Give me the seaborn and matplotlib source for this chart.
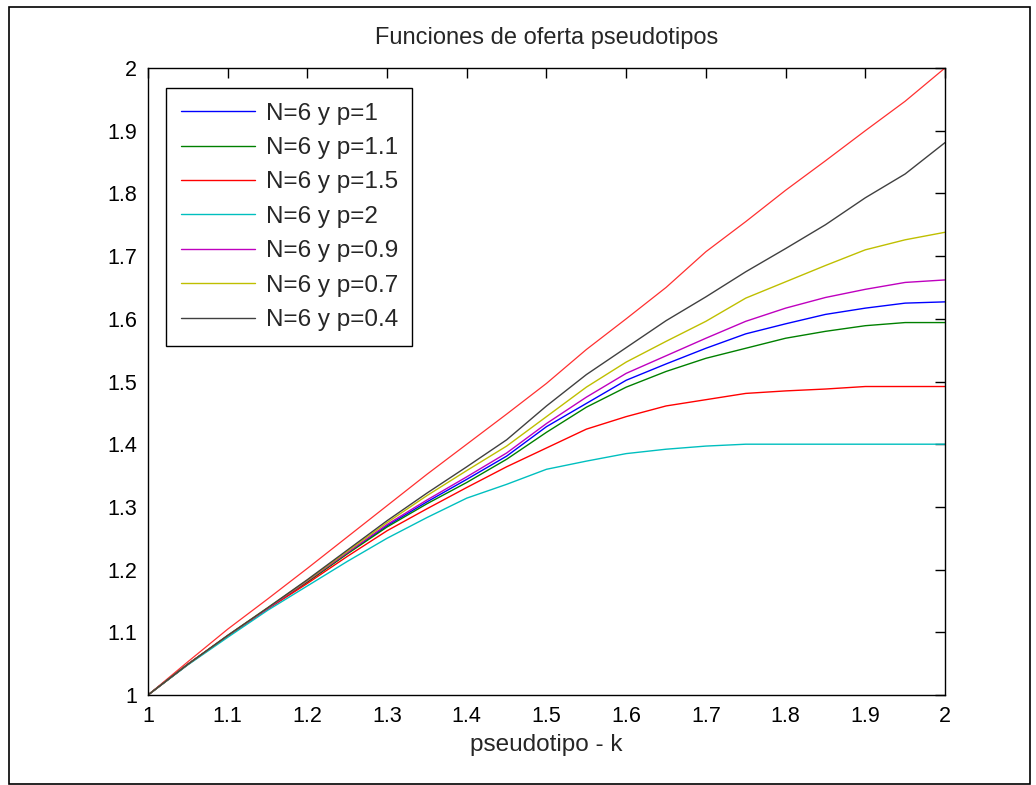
import numpy as np
import pandas as pd
import matplotlib
matplotlib.use("Agg")
import matplotlib.pyplot as plt
import seaborn as sns
from matplotlib.patches import Rectangle

# ---------------- data ----------------
k = [1.00, 1.05, 1.10, 1.15, 1.20, 1.25, 1.30, 1.35, 1.40, 1.45, 1.50,
     1.55, 1.60, 1.65, 1.70, 1.75, 1.80, 1.85, 1.90, 1.95, 2.00]

ref_line = [1.000, 1.053, 1.105, 1.153, 1.202, 1.252, 1.302, 1.352, 1.400, 1.448, 1.497,
            1.551, 1.600, 1.650, 1.707, 1.755, 1.805, 1.852, 1.900, 1.947, 2.000]
p_1 = [1.000, 1.049, 1.094, 1.138, 1.181, 1.226, 1.270, 1.308, 1.344, 1.381, 1.428,
       1.465, 1.502, 1.528, 1.553, 1.576, 1.592, 1.607, 1.617, 1.625, 1.627]
p_1_1 = [1.000, 1.049, 1.094, 1.138, 1.180, 1.225, 1.268, 1.305, 1.339, 1.376, 1.419,
         1.459, 1.491, 1.516, 1.537, 1.553, 1.569, 1.580, 1.589, 1.594, 1.594]
p_1_5 = [1.000, 1.049, 1.094, 1.137, 1.178, 1.221, 1.262, 1.297, 1.331, 1.364, 1.394,
         1.424, 1.444, 1.461, 1.471, 1.481, 1.485, 1.488, 1.492, 1.492, 1.492]
p_2 = [1.000, 1.048, 1.092, 1.135, 1.174, 1.213, 1.250, 1.283, 1.314, 1.336, 1.360,
       1.373, 1.385, 1.392, 1.397, 1.400, 1.400, 1.400, 1.400, 1.400, 1.400]
p_0_9 = [1.000, 1.049, 1.095, 1.138, 1.182, 1.227, 1.272, 1.311, 1.348, 1.386, 1.433,
         1.475, 1.513, 1.541, 1.569, 1.596, 1.617, 1.634, 1.647, 1.658, 1.662]
p_0_7 = [1.000, 1.049, 1.095, 1.139, 1.183, 1.229, 1.275, 1.318, 1.358, 1.397, 1.444,
         1.491, 1.531, 1.564, 1.596, 1.633, 1.659, 1.685, 1.710, 1.726, 1.738]
p_0_4 = [1.000, 1.049, 1.095, 1.139, 1.184, 1.231, 1.278, 1.322, 1.364, 1.407, 1.461,
         1.511, 1.554, 1.597, 1.635, 1.675, 1.712, 1.750, 1.793, 1.831, 1.881]

labels = ["N=6 y p=1", "N=6 y p=1.1", "N=6 y p=1.5", "N=6 y p=2",
          "N=6 y p=0.9", "N=6 y p=0.7", "N=6 y p=0.4"]
series = [p_1, p_1_1, p_1_5, p_2, p_0_9, p_0_7, p_0_4]
colors = ["#0000ff", "#008000", "#ff0000", "#00bfbf", "#bf00bf", "#bfbf00", "#404040"]

x_ticks = [1, 1.1, 1.2, 1.3, 1.4, 1.5, 1.6, 1.7, 1.8, 1.9, 2]
y_ticks = [1, 1.1, 1.2, 1.3, 1.4, 1.5, 1.6, 1.7, 1.8, 1.9, 2]
tick_labels = ["1", "1.1", "1.2", "1.3", "1.4", "1.5", "1.6", "1.7", "1.8", "1.9", "2"]

# ---------------- style ----------------
sns.set_style("white")
plt.rcParams["font.family"] = ["Liberation Sans", "DejaVu Sans"]
plt.rcParams["xtick.direction"] = "in"
plt.rcParams["ytick.direction"] = "in"

long = pd.DataFrame({
    "k": np.tile(k, len(series)),
    "v": np.concatenate(series),
    "serie": np.repeat(labels, len(k)),
})

fig = plt.figure(figsize=(10.36, 7.85), dpi=100)
fig.patch.set_facecolor("white")
ax = fig.add_axes([148 / 1036, 1 - 695 / 785, (945 - 148) / 1036, (695 - 68) / 785])

# unlabeled reference line (red, drawn first)
sns.lineplot(x=k, y=ref_line, ax=ax, color="#ff3030", linewidth=0.9, legend=False)
sns.lineplot(data=long, x="k", y="v", hue="serie", hue_order=labels,
             palette=dict(zip(labels, colors)), ax=ax, linewidth=1.0, sort=False)

ax.set_xlim(1, 2)
ax.set_ylim(1, 2)
ax.set_xticks(x_ticks)
ax.set_yticks(y_ticks)
ax.set_xticklabels(tick_labels)
ax.set_yticklabels(tick_labels)
ax.tick_params(axis="both", which="both", top=True, right=True, length=7, width=1,
               labelsize=15.5, colors="black", pad=8)
for s in ax.spines.values():
    s.set_visible(True)
    s.set_color("black")
    s.set_linewidth(1.0)

ax.set_title("Funciones de oferta pseudotipos", fontsize=17, pad=17)
ax.set_xlabel("pseudotipo - k", fontsize=17.5, labelpad=5)
ax.set_ylabel("")

handles, labs = ax.get_legend_handles_labels()
leg = ax.legend(handles, labs, loc="upper left", bbox_to_anchor=(0.0226, 0.968),
                fontsize=17.5, frameon=True, fancybox=False, edgecolor="black",
                framealpha=1, handlelength=3.05, handletextpad=0.45,
                labelspacing=0.51, borderpad=0.6, borderaxespad=0)
leg.get_frame().set_linewidth(1.0)

# outer figure border
fig.patches.append(Rectangle((9 / 1036, 1 / 785), (1030 - 9) / 1036, (777 - 0) / 785,
                             transform=fig.transFigure, fill=False,
                             edgecolor="black", linewidth=1.2))

fig.savefig("out.png", dpi=100, facecolor="white")
